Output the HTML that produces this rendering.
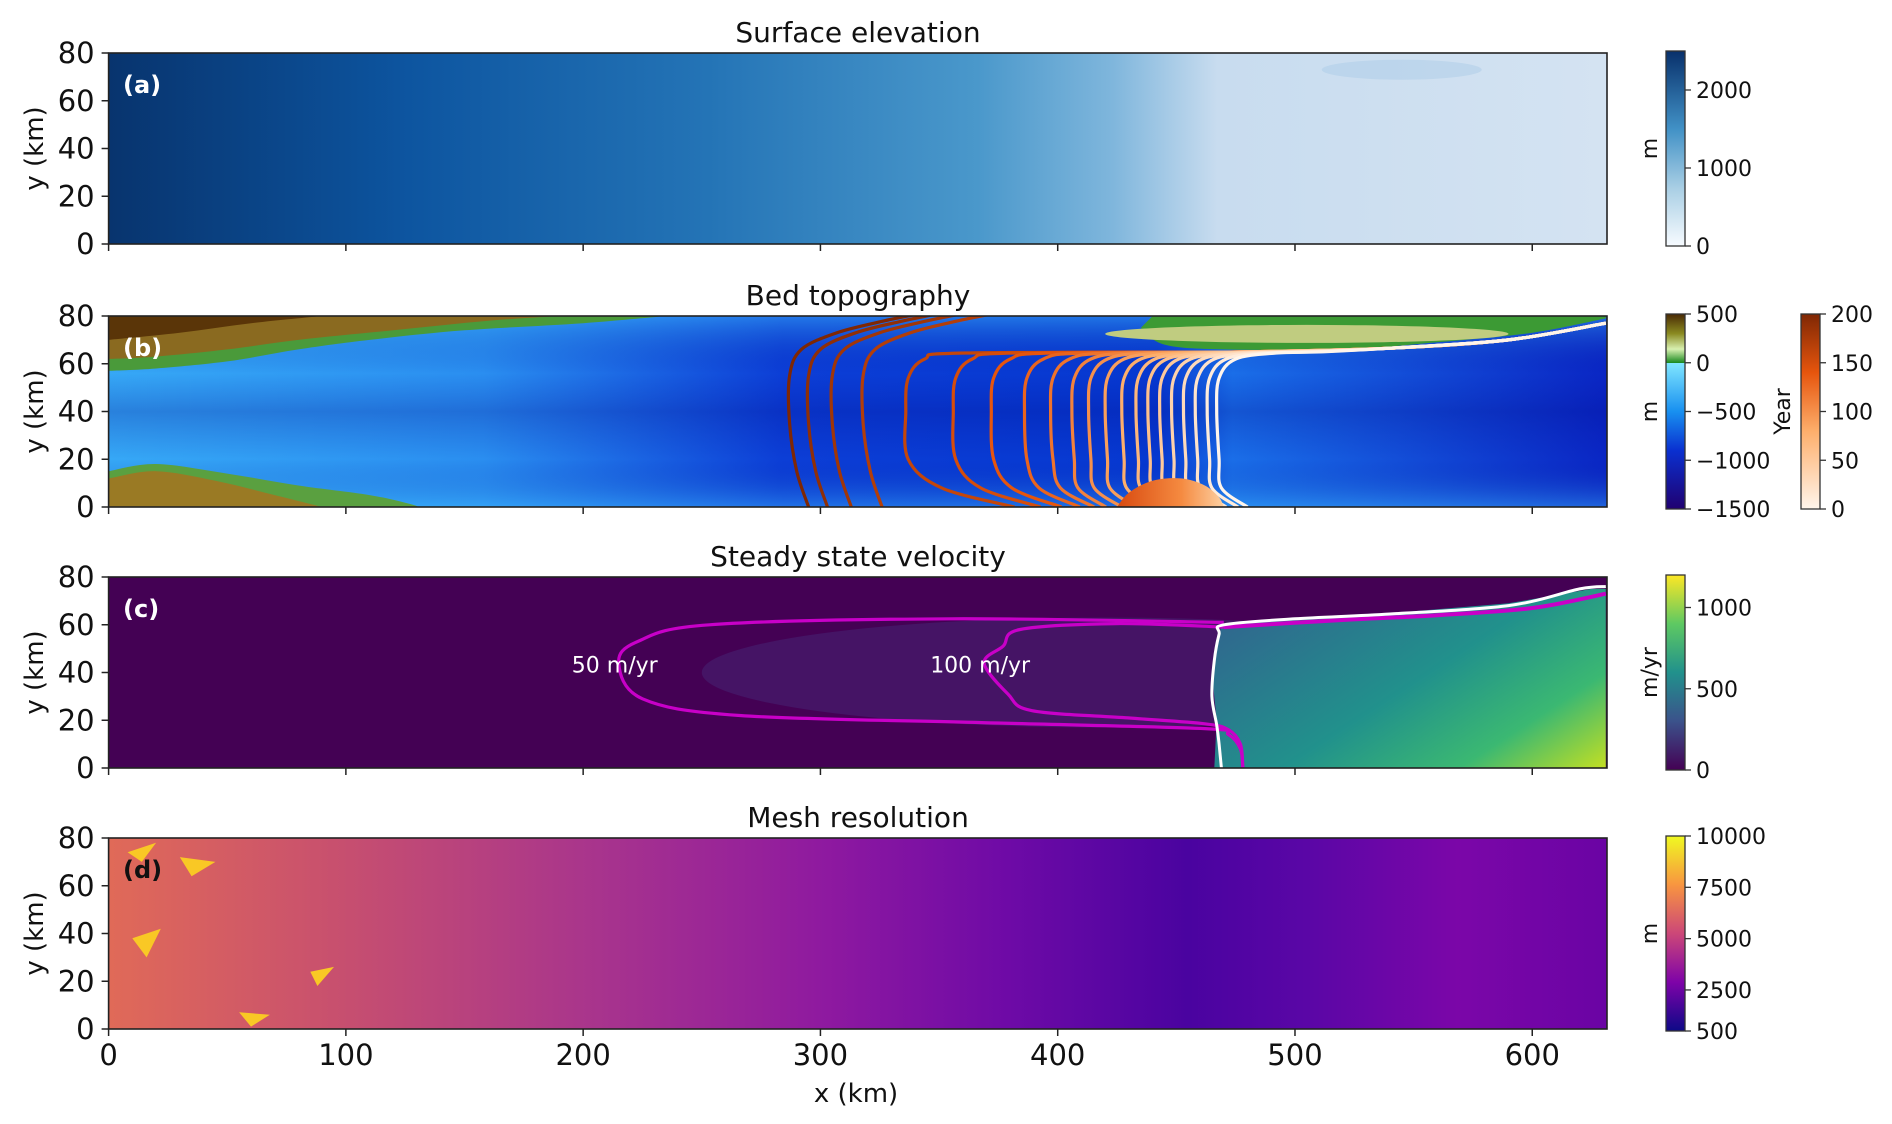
<!DOCTYPE html>
<html><head><meta charset="utf-8"><style>
html,body{margin:0;padding:0;background:#fff;}
svg{display:block;font-family:"DejaVu Sans","Liberation Sans",sans-serif;}
</style></head><body>
<svg id="fig" width="1892" height="1124" viewBox="0 0 1892 1124" xmlns="http://www.w3.org/2000/svg">
<defs>
<linearGradient id="gBlues" x1="0" x2="1" y1="0" y2="0">
 <stop offset="0" stop-color="#08346e"/><stop offset="0.2" stop-color="#0d55a0"/><stop offset="0.4" stop-color="#2474b6"/>
 <stop offset="0.58" stop-color="#4a98cb"/><stop offset="0.67" stop-color="#7fb6dc"/><stop offset="0.74" stop-color="#c8dcef"/><stop offset="1" stop-color="#d4e3f2"/>
</linearGradient>
<linearGradient id="gBedH" x1="0" x2="1" y1="0" y2="0">
 <stop offset="0" stop-color="#36a8f6"/><stop offset="0.25" stop-color="#2a8ef0"/><stop offset="0.45" stop-color="#0c3ed6"/>
 <stop offset="0.7" stop-color="#0638d0"/><stop offset="0.75" stop-color="#1a6ee8"/><stop offset="1" stop-color="#0a26c4"/>
</linearGradient>
<linearGradient id="gBedV" x1="0" x2="0" y1="0" y2="1">
 <stop offset="0" stop-color="#40c0ff" stop-opacity="0.45"/><stop offset="0.3" stop-color="#0010a0" stop-opacity="0"/>
 <stop offset="0.5" stop-color="#000c90" stop-opacity="0.25"/><stop offset="0.75" stop-color="#0010a0" stop-opacity="0"/>
 <stop offset="1" stop-color="#40c0ff" stop-opacity="0.4"/>
</linearGradient>
<linearGradient id="gOrFill" x1="0" x2="1" y1="0" y2="0">
 <stop offset="0" stop-color="#d84a10"/><stop offset="0.6" stop-color="#f58a40"/><stop offset="1" stop-color="#fdd0a2"/>
</linearGradient>
<linearGradient id="gVel" x1="0" x2="1" y1="0.3" y2="1">
 <stop offset="0" stop-color="#2f6a8e"/><stop offset="0.45" stop-color="#21918c"/><stop offset="0.75" stop-color="#3bb872"/><stop offset="1" stop-color="#c2df23"/>
</linearGradient>
<linearGradient id="gMesh" x1="0" x2="1" y1="0" y2="0">
 <stop offset="0" stop-color="#e06a58"/><stop offset="0.15" stop-color="#c8506e"/><stop offset="0.32" stop-color="#a9358c"/>
 <stop offset="0.48" stop-color="#8e19a0"/><stop offset="0.6" stop-color="#6e0aa6"/><stop offset="0.72" stop-color="#4a03a0"/>
 <stop offset="0.8" stop-color="#5a06a6"/><stop offset="0.9" stop-color="#7b06a8"/><stop offset="1" stop-color="#6a04a4"/>
</linearGradient>
<linearGradient id="cbBlues" x1="0" x2="0" y1="1" y2="0">
 <stop offset="0" stop-color="#f7fbff"/><stop offset="0.3" stop-color="#a8cee4"/><stop offset="0.6" stop-color="#4191c6"/><stop offset="1" stop-color="#08306b"/>
</linearGradient>
<linearGradient id="cbBed" x1="0" x2="0" y1="0" y2="1">
 <stop offset="0" stop-color="#4a2a05"/><stop offset="0.1" stop-color="#8a8a20"/><stop offset="0.18" stop-color="#d8f0b0"/><stop offset="0.25" stop-color="#1a8a20"/>
 <stop offset="0.251" stop-color="#80e6ff"/><stop offset="0.5" stop-color="#1890f0"/><stop offset="0.7" stop-color="#0a30d0"/><stop offset="1" stop-color="#200070"/>
</linearGradient>
<linearGradient id="cbOr" x1="0" x2="0" y1="1" y2="0">
 <stop offset="0" stop-color="#fff5eb"/><stop offset="0.4" stop-color="#fdae6b"/><stop offset="0.7" stop-color="#e6550d"/><stop offset="1" stop-color="#7f2704"/>
</linearGradient>
<linearGradient id="cbVir" x1="0" x2="0" y1="1" y2="0">
 <stop offset="0" stop-color="#440154"/><stop offset="0.25" stop-color="#3b528b"/><stop offset="0.5" stop-color="#21918c"/><stop offset="0.75" stop-color="#5ec962"/><stop offset="1" stop-color="#fde725"/>
</linearGradient>
<linearGradient id="cbPl" x1="0" x2="0" y1="1" y2="0">
 <stop offset="0" stop-color="#0d0887"/><stop offset="0.25" stop-color="#7e03a8"/><stop offset="0.5" stop-color="#cc4778"/><stop offset="0.75" stop-color="#f89540"/><stop offset="1" stop-color="#f0f921"/>
</linearGradient>
<clipPath id="clipP"><rect x="0" y="0" width="1498.4" height="191"/></clipPath>
</defs>
<g id="root"></g>
</svg>
<script>
// ---- data ----
const xTicks=[0,100,200,300,400,500,600];
const yTicks=[0,20,40,60,80];
const panelTitles=["Surface elevation","Bed topography","Steady state velocity","Mesh resolution"];
const panelLetters=["(a)","(b)","(c)","(d)"];
const contourYears=[200,190,180,170,160,150,140,130,120,110,100,90,80,70,60,50,40,30,20,10,0];
const frontX=[287,295,305,318,336,356,372,386,397,406,413,420,427,433,438,443,448,453,458,463,467];
const velLevels=[50,100];
const velNoseX=[215,369];
const velTopY=[62,60];
const velBotY=[17,19];
const cbSurfTicks=[0,1000,2000]; const cbSurfRange=[0,2500];
const cbBedTicks=[500,0,-500,-1000,-1500]; const cbBedRange=[-1500,500];
const cbYearTicks=[0,50,100,150,200]; const cbYearRange=[0,200];
const cbVelTicks=[0,500,1000]; const cbVelRange=[0,1200];
const cbMeshTicks=[500,2500,5000,7500,10000]; const cbMeshRange=[500,10000];

// ---- geometry ----
const L=108.6, W=1498.4, H=191, XMAX=631.5;
const tops=[53,316,577,838];
const NS="http://www.w3.org/2000/svg";
const root=document.getElementById('root');
function mk(tag,attrs,parent){const e=document.createElementNS(NS,tag);for(const k in attrs)e.setAttribute(k,attrs[k]);(parent||root).appendChild(e);return e;}
function X(km){return L+km*W/XMAX;}
function Y(i,y){return tops[i]+H*(1-y/80);}
function pts(i,arr){return arr.map(p=>X(p[0]).toFixed(1)+','+Y(i,p[1]).toFixed(1)).join(' ');}
function smooth(i,arr){
  const P=arr.map(p=>[X(p[0]),Y(i,p[1])]);
  let d='M'+P[0][0].toFixed(1)+','+P[0][1].toFixed(1);
  for(let k=0;k<P.length-1;k++){
    const p0=P[k-1]||P[k],p1=P[k],p2=P[k+1],p3=P[k+2]||P[k+1];
    const c1=[p1[0]+(p2[0]-p0[0])/6,p1[1]+(p2[1]-p0[1])/6];
    const c2=[p2[0]-(p3[0]-p1[0])/6,p2[1]-(p3[1]-p1[1])/6];
    d+=' C'+c1[0].toFixed(1)+','+c1[1].toFixed(1)+' '+c2[0].toFixed(1)+','+c2[1].toFixed(1)+' '+p2[0].toFixed(1)+','+p2[1].toFixed(1);
  }
  return d;
}

// ---- panel groups ----
const pg=[];
for(let i=0;i<4;i++){
  let g=mk('g',{'clip-path':'url(#clipP)',transform:'translate('+L+','+tops[i]+')'});
  
  
  let inner=mk('g',{transform:'translate('+(-L)+','+(-tops[i])+')'},g);
  pg.push(inner);
}
let e;
// panel a
e=mk('rect',{x:L,y:tops[0],width:W,height:H,fill:'url(#gBlues)'},pg[0]);


e=mk('ellipse',{cx:X(545),cy:Y(0,73),rx:80,ry:10,fill:'#a8cae6',opacity:0.45},pg[0]);



// panel b
e=mk('rect',{x:L,y:tops[1],width:W,height:H,fill:'url(#gBedH)'},pg[1]);


e=mk('rect',{x:L,y:tops[1],width:W,height:H,fill:'url(#gBedV)'},pg[1]);


e=mk('path',{d:smooth(1,[[0,57],[20,58],[50,61],[80,66],[110,70],[150,74],[200,77],[235,80]])+' L'+X(0)+','+Y(1,80)+' Z',fill:'#4a9a3a'},pg[1]);


e=mk('path',{d:smooth(1,[[0,62],[20,63],[50,66],[80,70],[120,74],[160,78],[190,80]])+' L'+X(0)+','+Y(1,80)+' Z',fill:'#8a6a20'},pg[1]);


e=mk('path',{d:smooth(1,[[0,70],[30,73],[60,77],[90,80]])+' L'+X(0)+','+Y(1,80)+' Z',fill:'#5a3508'},pg[1]);


e=mk('path',{d:smooth(1,[[0,15],[20,18],[50,14],[80,9],[110,5],[128,1],[130,0]])+' L'+X(0)+','+Y(1,0)+' Z',fill:'#5aa040'},pg[1]);


e=mk('path',{d:smooth(1,[[0,12],[20,15],[45,11],[70,5],[90,0]])+' L'+X(0)+','+Y(1,0)+' Z',fill:'#9a7a24'},pg[1]);


e=mk('path',{d:smooth(1,[[435,75],[445,68],[470,66],[520,66],[560,69],[600,73],[631,79]])+' L'+X(631)+','+Y(1,80)+' L'+X(440)+','+Y(1,80)+' Z',fill:'#3c9a34'},pg[1]);


e=mk('ellipse',{cx:X(505),cy:Y(1,72.5),rx:X(555)-X(470),ry:9,fill:'#c0cc80'},pg[1]);


function orColor(t){
  const c0=[255,245,235],c1=[253,174,107],c2=[230,85,13],c3=[127,39,4];
  let a,b,f; if(t<0.4){a=c0;b=c1;f=t/0.4;}else if(t<0.7){a=c1;b=c2;f=(t-0.4)/0.3;}else{a=c2;b=c3;f=(t-0.7)/0.3;}
  return 'rgb('+a.map((v,k)=>Math.round(v+(b[k]-v)*f)).join(',')+')';
}
for(let k=0;k<contourYears.length;k++){
  const xf=frontX[k];
  let arr;
  if(xf<330){
    arr=[[xf+8,0],[xf+3,15],[xf,35],[xf,55],[xf+5,66],[xf+20,73],[xf+40,78],[xf+55,81]];
  } else {
    const off=xf<420?Math.max(6,(420-xf)*0.45):5;
    arr=[[xf+off+8,0],[xf+off*0.4,8],[xf+1,20],[xf,40],[xf+1,54],[xf+8,62],[xf+25,64.5],[Math.max(xf+45,480),65],[540,66.5],[590,70],[631,77]];
  }
  e=mk('path',{d:smooth(1,arr),fill:'none',stroke:orColor(contourYears[k]/200),'stroke-width':3.2,'stroke-linejoin':'round'},pg[1]);
  
  
}
e=mk('path',{d:smooth(1,[[425,0],[430,6],[440,11],[452,12],[462,9],[468,4],[470,0]])+' Z',fill:'url(#gOrFill)'},pg[1]);



// panel c
e=mk('rect',{x:L,y:tops[2],width:W,height:H,fill:'#440154'},pg[2]);


e=mk('ellipse',{cx:X(420),cy:Y(2,40),rx:X(470)-X(300),ry:55,fill:'#472d7b',opacity:0.45},pg[2]);


e=mk('polygon',{points:pts(2,[[466,0],[467,20],[465,40],[469,60],[530,64],[590,69],[625,75],[631,75],[631,0]]),fill:'url(#gVel)'},pg[2]);


for(let k=0;k<velLevels.length;k++){
  const n=velNoseX[k],t=velTopY[k],b=velBotY[k];
  const span=470-n;
  const arr=[[470,t-1],[n+span*0.55,t+0.5],[n+span*0.15,t-2],[n+8,t-9],[n,44],[n+10,b+12],[n+span*0.2,b+5],[n+span*0.6,b+2],[462,b-0.5],[472,b-3],[477,b-9],[478,0]];
  e=mk('path',{d:smooth(2,arr),fill:'none',stroke:'#c800c8','stroke-width':3.2,'stroke-linejoin':'round'},pg[2]);
  
  
  e=mk('text',{x:X(n)-4,y:Y(2,40),fill:'#fff','font-size':22,'text-anchor':'middle'},pg[2]);
  e.textContent=velLevels[k]+' m/yr';
  
  
}
e=mk('path',{d:smooth(2,[[470,59],[520,62],[560,64],[600,67],[631,73]]),fill:'none',stroke:'#c800c8','stroke-width':4},pg[2]);


e=mk('path',{d:smooth(2,[[469,0],[468,10],[467,18],[465,30],[466,45],[468,56],[470,60],[500,62.5],[540,64.5],[590,68],[620,75],[631,76]]),fill:'none',stroke:'#fff','stroke-width':3},pg[2]);



// panel d
e=mk('rect',{x:L,y:tops[3],width:W,height:H,fill:'url(#gMesh)'},pg[3]);


const hot=[[[8,74],[20,78],[14,70]],[[10,38],[22,42],[16,30]],[[85,24],[95,26],[88,18]],[[55,7],[68,6],[60,1]],[[35,64],[45,70],[30,72]]];
hot.forEach((tri,k)=>{
  e=mk('polygon',{points:pts(3,tri),fill:'#f9c825'},pg[3]);
  
  
});

// ---- frames, ticks, labels ----
for(let i=0;i<4;i++){
  e=mk('rect',{x:L,y:tops[i],width:W,height:H,fill:'none',stroke:'#222','stroke-width':1.6});
  
  
  e=mk('text',{x:858,y:tops[i]-11,'font-size':28,'text-anchor':'middle',fill:'#111'});
  e.textContent=panelTitles[i];
  
  
  e=mk('text',{x:123,y:tops[i]+40,'font-size':24,'font-weight':'bold',fill:i==3?'#111':'#fff'});
  e.textContent=panelLetters[i];
  
  
  yTicks.forEach(v=>{
    e=mk('line',{x1:L-7,x2:L,y1:Y(i,v),y2:Y(i,v),stroke:'#222','stroke-width':1.5});
    
    
    e=mk('text',{x:L-14,y:Y(i,v)+10,'font-size':29,'text-anchor':'end',fill:'#111'});
    e.textContent=v;
    
    
  });
  xTicks.forEach(v=>{
    e=mk('line',{x1:X(v),x2:X(v),y1:tops[i]+H,y2:tops[i]+H+7,stroke:'#222','stroke-width':1.5});
    
    
    if(i==3){
      e=mk('text',{x:X(v),y:tops[i]+H+36,'font-size':29,'text-anchor':'middle',fill:'#111'});
      e.textContent=v;
      
      
    }
  });
  e=mk('text',{x:0,y:0,'font-size':26,'text-anchor':'middle',fill:'#111',transform:'translate(43,'+(tops[i]+H/2)+') rotate(-90)'});
  e.textContent='y (km)';
  
  
}
e=mk('text',{x:X(315),y:1102,'font-size':26,'text-anchor':'middle',fill:'#111'});
e.textContent='x (km)';



// ---- colorbars ----
function colorbar(name,i,cx,grad,ticks,range,label,labelX){
  const top=tops[i]-2, h=H+4, w=19;
  let r=mk('rect',{x:cx,y:top,width:w,height:h,fill:'url(#'+grad+')',stroke:'#333','stroke-width':1.3});
  
  
  ticks.forEach(v=>{
    const y=top+h*(1-(v-range[0])/(range[1]-range[0]));
    let t=mk('line',{x1:cx+w,x2:cx+w+6,y1:y,y2:y,stroke:'#333','stroke-width':1.3});
    
    
    t=mk('text',{x:cx+w+11,y:y+8,'font-size':22,fill:'#111'});
    t.textContent=String(v).replace('-','\u2212');
    
    
  });
  let lb=mk('text',{x:0,y:0,'font-size':22,'text-anchor':'middle',fill:'#111',transform:'translate('+labelX+','+(top+h/2)+') rotate(-90)'});
  lb.textContent=label;
  
  
}
colorbar('colorbar-surface',0,1666,'cbBlues',cbSurfTicks,cbSurfRange,'m',1657);
colorbar('colorbar-bed',1,1666,'cbBed',cbBedTicks,cbBedRange,'m',1657);
colorbar('colorbar-year',1,1801,'cbOr',cbYearTicks,cbYearRange,'Year',1790);
colorbar('colorbar-velocity',2,1666,'cbVir',cbVelTicks,cbVelRange,'m/yr',1657);
colorbar('colorbar-mesh',3,1666,'cbPl',cbMeshTicks,cbMeshRange,'m',1657);
</script>
</body></html>
